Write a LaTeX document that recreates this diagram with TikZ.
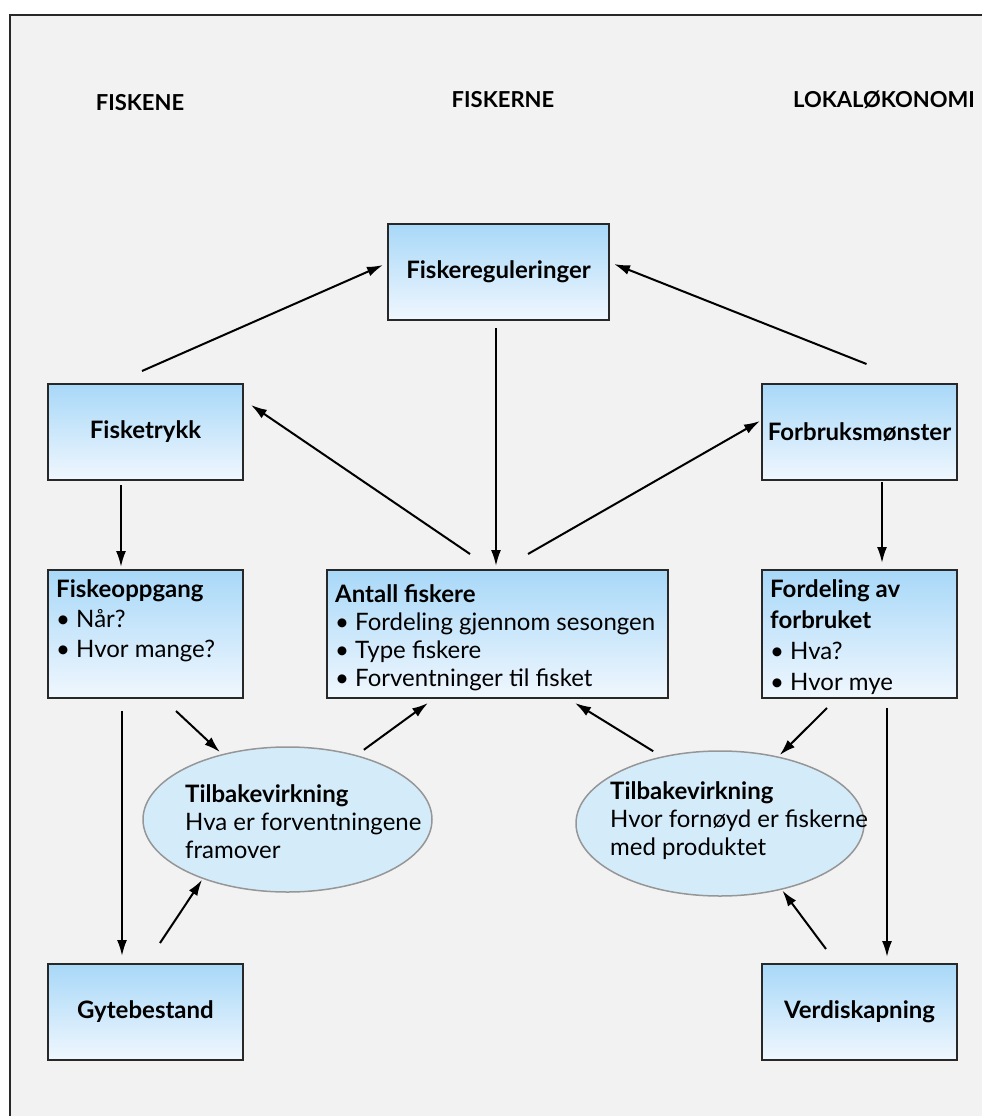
\documentclass[tikz,border=0pt]{standalone}
\usepackage{fontspec}
\setmainfont{Lato}
\usetikzlibrary{shapes.geometric, arrows.meta, positioning}
\definecolor{boxtop}{RGB}{168,216,248}
\definecolor{boxbot}{RGB}{240,247,254}
\definecolor{ellfill}{RGB}{212,235,250}
\definecolor{ellline}{RGB}{150,150,150}
\definecolor{framebg}{RGB}{242,242,242}
\definecolor{darkline}{RGB}{40,40,40}
\newcommand{\diafont}{\fontsize{24}{29}\selectfont}
\tikzset{
>={Latex[length=16pt,width=10pt]}, % filled arrow heads
flow/.style={->, line width=2pt}, % all connectors
bluebox/.style={draw=darkline, line width=2pt, top color=boxtop, bottom color=boxbot, minimum width=195pt, minimum height=96pt, inner sep=0pt, font=\diafont\bfseries}, % shaded boxes
feedback/.style={ellipse, draw=ellline, line width=1.5pt, fill=ellfill, minimum width=289pt, minimum height=145pt, inner sep=0pt}, % the two ellipses
boxtext/.style={anchor=north west, align=left, inner sep=0pt, font=\diafont}, % text inside boxes
heading/.style={anchor=base, inner sep=0pt, font=\fontsize{22}{26}\selectfont\bfseries}, % column titles
}
\begin{document}
\begin{tikzpicture}[x=1pt, y=-1pt]
    \useasboundingbox (0,0) rectangle (982,1116);
    \clip (0,0) rectangle (982,1116);
    \draw[darkline, line width=2pt, fill=framebg] (10,15) rectangle (1000,1130);
    % column headings
    \node[heading] (hfisk) at (140,110) {FISKENE};
    \node[heading] (hfiskere) at (503,107) {FISKERNE};
    \node[heading] (hlokal) at (884,107) {LOKALØKONOMI};
    % boxes
    \node[bluebox, minimum width=221pt] (regulering) at (498.5,272) {Fiskereguleringer};
    \node[bluebox] (trykk) at (145.5,432) {Fisketrykk};
    \node[bluebox, right of=trykk, node distance=714pt] (forbruk) {Forbruksmønster};
    \node[bluebox, minimum height=128pt, below of=trykk, node distance=202pt] (oppgang) {};
    \node[bluebox, minimum width=341pt, minimum height=128pt, right of=oppgang, node distance=352pt] (antall) {};
    \node[bluebox, minimum height=128pt, below of=forbruk, node distance=202pt] (fordeling) {};
    \node[bluebox, below of=oppgang, node distance=378pt] (gyte) {Gytebestand};
    \node[bluebox, right of=gyte, node distance=714pt] (verdi) {Verdiskapning};
    % ellipses
    \node[feedback] (tilbakeL) at (287.5,819.5) {};
    \node[feedback, minimum width=288pt] (tilbakeR) at (720,823.5) {};
    % texts
    \node[boxtext, font=\fontsize{24}{30}\selectfont] (oppgangtxt) at (56,579) {\textbf{Fiskeoppgang}\\• Når?\\• Hvor mange?};
    \node[boxtext, font=\fontsize{24}{28}\selectfont] (antalltxt) at (335,584) {\textbf{Antall fiskere}\\• Fordeling gjennom sesongen\\• Type fiskere\\• Forventninger til fisket};
    \node[boxtext, font=\fontsize{24}{31}\selectfont] (fordelingtxt) at (770,579) {\textbf{Fordeling av}\\\textbf{forbruket}\\• Hva?\\• Hvor mye};
    \node[boxtext, font=\fontsize{24}{28}\selectfont] (tilbakeLtxt) at (185,784) {\textbf{Tilbakevirkning}\\Hva er forventningene\\framover};
    \node[boxtext, font=\fontsize{24}{28}\selectfont] (tilbakeRtxt) at (610,781) {\textbf{Tilbakevirkning}\\Hvor fornøyd er fiskerne\\med produktet};
    % connectors
    \draw[flow] ([xshift=-3.5pt,yshift=12pt]trykk.north) -- ([xshift=-4pt,yshift=7pt]regulering.west);
    \draw[flow] ([xshift=7pt,yshift=19pt]forbruk.north) -- ([xshift=4pt,yshift=8pt]regulering.east);
    \draw[flow, shorten <=7pt, shorten >=3pt] ([xshift=-2.5pt]regulering.south) -- ([xshift=-1.5pt]antall.north);
    \draw[flow] ([xshift=-27.5pt,yshift=15pt]antall.north) -- ([xshift=7pt,yshift=27pt]trykk.east);
    \draw[flow] ([xshift=30.5pt,yshift=15pt]antall.north) -- ([xshift=-1pt,yshift=11pt]forbruk.west);
    \draw[flow] ([xshift=-24.5pt,yshift=-4pt]trykk.south) -- ([xshift=-24.5pt,yshift=2pt]oppgang.north);
    \draw[flow] ([xshift=22.5pt,yshift=-1pt]forbruk.south) -- ([xshift=22.5pt,yshift=6pt]fordeling.north);
    \draw[flow] ([xshift=-23.5pt,yshift=-12pt]oppgang.south) -- ([xshift=-23.5pt,yshift=7pt]gyte.north);
    \draw[flow, shorten >=3pt] ([xshift=30.5pt,yshift=-12pt]oppgang.south) -- (tilbakeL.135);
    \draw[flow, shorten <=9pt] (tilbakeL.43) -- ([xshift=-69.5pt,yshift=-4pt]antall.south);
    \draw[flow, shorten <=10pt] (tilbakeR.131) -- ([xshift=77.5pt,yshift=-4pt]antall.south);
    \draw[flow, shorten >=2pt] ([xshift=-32.5pt,yshift=-9pt]fordeling.south) -- (tilbakeR.49);
    \draw[flow] ([xshift=27.5pt,yshift=-9pt]fordeling.south) -- ([xshift=27.5pt,yshift=6pt]verdi.north);
    \draw[flow, shorten >=1pt] ([xshift=14.5pt,yshift=20pt]gyte.north) -- (tilbakeL.-145);
    \draw[flow, shorten >=1pt] ([xshift=-33.5pt,yshift=14pt]verdi.north) -- (tilbakeR.-47);
\end{tikzpicture}
\end{document}
